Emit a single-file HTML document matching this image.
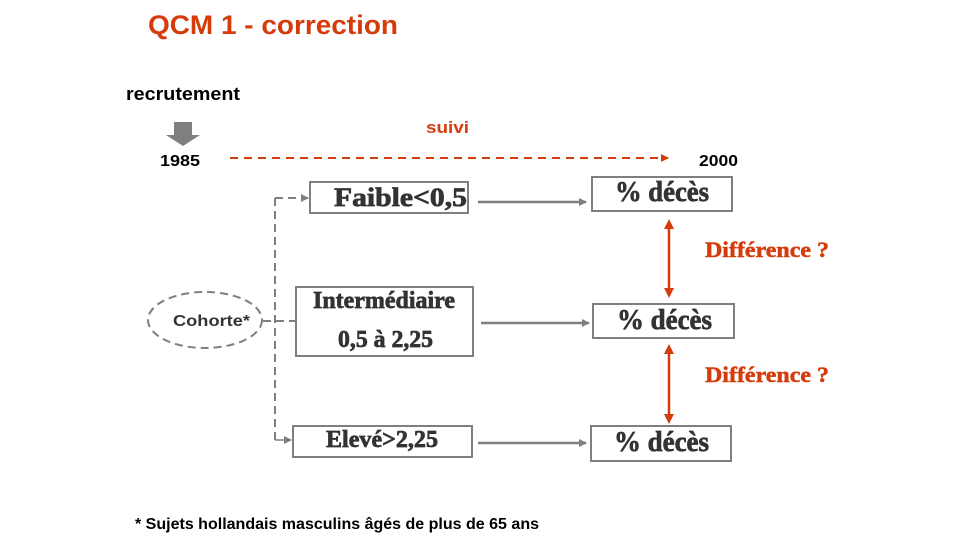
<!DOCTYPE html>
<html><head><meta charset="utf-8"><style>
html,body{margin:0;padding:0;background:#fff;width:960px;height:540px;overflow:hidden}
svg{display:block}
</style></head><body>
<svg width="960" height="540" viewBox="0 0 960 540" xmlns="http://www.w3.org/2000/svg">
<defs>
<marker id="ag" markerWidth="8" markerHeight="8" refX="7" refY="4" orient="auto" markerUnits="userSpaceOnUse"><path d="M0,0 L8,4 L0,8 z" fill="#7f7f7f"/></marker>
<marker id="ar" markerWidth="10" markerHeight="10" refX="5" refY="5" orient="auto-start-reverse" markerUnits="userSpaceOnUse"><path d="M0,0 L10,5 L0,10 z" fill="#d53c0c"/></marker>
<marker id="ar2" markerWidth="8" markerHeight="8" refX="7" refY="4" orient="auto" markerUnits="userSpaceOnUse"><path d="M0,0 L8,4 L0,8 z" fill="#d53c0c"/></marker>
</defs>
<g font-family="Liberation Sans, Arial, sans-serif" font-weight="bold">
<text x="148" y="34" font-size="27" fill="#d53c0c" textLength="250" lengthAdjust="spacingAndGlyphs">QCM 1 - correction</text>
<text x="126" y="100" font-size="18" fill="#000" textLength="114" lengthAdjust="spacingAndGlyphs">recrutement</text>
<text x="160" y="166" font-size="16" fill="#000" textLength="40" lengthAdjust="spacingAndGlyphs">1985</text>
<text x="699" y="166" font-size="16" fill="#000" textLength="39" lengthAdjust="spacingAndGlyphs">2000</text>
<text x="426" y="133" font-size="17" fill="#d53c0c" textLength="43" lengthAdjust="spacingAndGlyphs">suivi</text>
<text x="173" y="326" font-size="16" fill="#333" textLength="77" lengthAdjust="spacingAndGlyphs">Cohorte*</text>
<text x="135" y="529" font-size="16" fill="#000" textLength="404" lengthAdjust="spacingAndGlyphs">* Sujets hollandais masculins âgés de plus de 65 ans</text>
</g>
<path d="M174,122 H192 V135 H200 L183,146 L166,135 H174 Z" fill="#7f7f7f"/>
<line x1="230" y1="158" x2="668" y2="158" stroke="#d53c0c" stroke-width="2" stroke-dasharray="8,6" marker-end="url(#ar2)"/>
<ellipse cx="205" cy="320" rx="57" ry="28" fill="none" stroke="#7f7f7f" stroke-width="2" stroke-dasharray="8,5"/>
<line x1="263" y1="321" x2="296" y2="321" stroke="#7f7f7f" stroke-width="2" stroke-dasharray="8,5"/>
<line x1="275" y1="198" x2="275" y2="440" stroke="#7f7f7f" stroke-width="2" stroke-dasharray="8,5"/>
<line x1="275" y1="198" x2="308" y2="198" stroke="#7f7f7f" stroke-width="2" stroke-dasharray="8,5" marker-end="url(#ag)"/>
<line x1="275" y1="440" x2="291" y2="440" stroke="#7f7f7f" stroke-width="1.5" marker-end="url(#ag)"/>
<rect x="310" y="182" width="158" height="31" fill="#fff" stroke="#7f7f7f" stroke-width="2"/>
<rect x="296" y="287" width="177" height="69" fill="#fff" stroke="#7f7f7f" stroke-width="2"/>
<rect x="293" y="426" width="179" height="31" fill="#fff" stroke="#7f7f7f" stroke-width="2"/>
<line x1="478" y1="202" x2="586" y2="202" stroke="#7f7f7f" stroke-width="2.5" marker-end="url(#ag)"/>
<line x1="481" y1="323" x2="589" y2="323" stroke="#7f7f7f" stroke-width="2.5" marker-end="url(#ag)"/>
<line x1="478" y1="443" x2="586" y2="443" stroke="#7f7f7f" stroke-width="2.5" marker-end="url(#ag)"/>
<rect x="592" y="177" width="140" height="34" fill="#fff" stroke="#7f7f7f" stroke-width="2"/>
<rect x="593" y="304" width="141" height="34" fill="#fff" stroke="#7f7f7f" stroke-width="2"/>
<rect x="591" y="426" width="140" height="35" fill="#fff" stroke="#7f7f7f" stroke-width="2"/>
<line x1="669" y1="224" x2="669" y2="293" stroke="#d53c0c" stroke-width="2.5" marker-start="url(#ar)" marker-end="url(#ar)"/>
<line x1="669" y1="349" x2="669" y2="419" stroke="#d53c0c" stroke-width="2.5" marker-start="url(#ar)" marker-end="url(#ar)"/>
<g font-family="Liberation Serif, Times New Roman, serif" font-weight="bold">
<g fill="#333" stroke="#333" stroke-width="0.7">
<text x="334" y="206" font-size="26" textLength="133" lengthAdjust="spacingAndGlyphs">Faible&lt;0,5</text>
<text x="313" y="308" font-size="24" textLength="142" lengthAdjust="spacingAndGlyphs">Intermédiaire</text>
<text x="338" y="347" font-size="24" textLength="95" lengthAdjust="spacingAndGlyphs">0,5 à 2,25</text>
<text x="326" y="447" font-size="24" textLength="112" lengthAdjust="spacingAndGlyphs">Elevé&gt;2,25</text>
<text x="615" y="201" font-size="28" textLength="94" lengthAdjust="spacingAndGlyphs">% décès</text>
<text x="617" y="329" font-size="28" textLength="95" lengthAdjust="spacingAndGlyphs">% décès</text>
<text x="614" y="451" font-size="28" textLength="95" lengthAdjust="spacingAndGlyphs">% décès</text>
</g>
<g fill="#d53c0c" stroke="#d53c0c" stroke-width="0.5">
<text x="705" y="257" font-size="22" textLength="124" lengthAdjust="spacingAndGlyphs">Différence ?</text>
<text x="705" y="382" font-size="22" textLength="124" lengthAdjust="spacingAndGlyphs">Différence ?</text>
</g>
</g>
</svg>
</body></html>
